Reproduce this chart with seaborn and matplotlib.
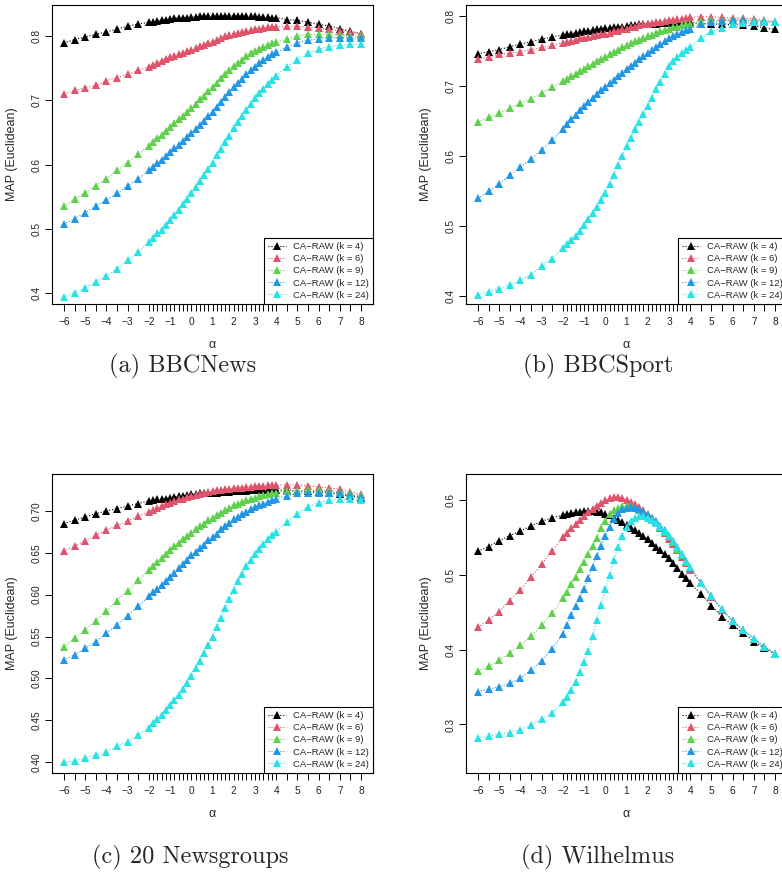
import matplotlib
matplotlib.use("Agg")
import matplotlib.pyplot as plt
import pandas as pd
import seaborn as sns

# alpha grid: coarse steps at both ends, 0.2 steps between -2 and 4
ALPHA = [-6, -5.5, -5, -4.5, -4, -3.5, -3, -2.5,
         -2, -1.8, -1.6, -1.4, -1.2, -1, -0.8, -0.6, -0.4, -0.2,
         0, 0.2, 0.4, 0.6, 0.8, 1, 1.2, 1.4, 1.6, 1.8,
         2, 2.2, 2.4, 2.6, 2.8, 3, 3.2, 3.4, 3.6, 3.8, 4,
         4.5, 5, 5.5, 6, 6.5, 7, 7.5, 8]

K_LABELS = ["CA\u2212RAW (k = 4)", "CA\u2212RAW (k = 6)", "CA\u2212RAW (k = 9)",
            "CA\u2212RAW (k = 12)", "CA\u2212RAW (k = 24)"]
COLORS = ["#000000", "#DF536B", "#61D04F", "#2297E6", "#28E2E5"]

# (a) BBCNews
BBCNEWS_K4 = [.789, .794, .798, .802, .806, .810, .815, .818,
              .821, .822, .823, .824, .825, .826, .827, .827, .828, .828,
              .829, .829, .830, .830, .830, .830, .831, .831, .831, .831,
              .831, .831, .830, .830, .830, .830, .829, .829, .829, .828, .828,
              .825, .824, .821, .818, .815, .811, .807, .803]
BBCNEWS_K6 = [.709, .715, .719, .723, .730, .735, .740, .746,
              .752, .755, .758, .761, .764, .767, .769, .771, .773, .776,
              .778, .781, .784, .786, .789, .791, .794, .796, .799, .801,
              .803, .804, .806, .807, .809, .810, .811, .812, .813, .814, .814,
              .8145, .815, .813, .812, .810, .808, .806, .802]
BBCNEWS_K9 = [.535, .546, .556, .567, .578, .591, .603, .616,
              .629, .635, .641, .646, .652, .658, .664, .670, .676, .682,
              .688, .694, .701, .707, .714, .720, .727, .734, .740, .747,
              .753, .758, .763, .768, .773, .777, .780, .783, .786, .788, .790,
              .795, .800, .802, .802, .802, .801, .800, .799]
BBCNEWS_K12 = [.507, .516, .525, .535, .545, .555, .567, .578,
               .591, .596, .602, .607, .613, .619, .625, .631, .637, .643,
               .649, .655, .662, .668, .675, .682, .690, .697, .705, .712,
               .720, .727, .733, .740, .746, .752, .757, .762, .767, .771, .775,
               .782, .789, .793, .795, .797, .797, .797, .796]
BBCNEWS_K24 = [.394, .401, .409, .418, .427, .438, .451, .464,
               .479, .486, .493, .499, .506, .514, .522, .530, .538, .547,
               .556, .565, .574, .584, .593, .603, .614, .624, .635, .645,
               .656, .666, .676, .685, .694, .703, .711, .718, .725, .732, .738,
               .752, .763, .773, .779, .783, .785, .787, .787]

# (b) BBCSport
BBCSPORT_K4 = [.746, .749, .752, .756, .760, .763, .767, .770,
               .773, .774, .775, .776, .777, .778, .779, .780, .781, .782,
               .783, .783, .784, .785, .785, .786, .787, .787, .788, .788,
               .789, .789, .789, .790, .790, .790, .790, .791, .791, .791, .791,
               .789, .789, .788, .788, .787, .786, .783, .781]
BBCSPORT_K6 = [.739, .741, .745, .747, .749, .752, .755, .758,
               .762, .763, .765, .766, .768, .769, .770, .771, .773, .774,
               .775, .776, .778, .779, .781, .782, .784, .785, .787, .788,
               .789, .790, .791, .792, .793, .794, .795, .796, .796, .797, .798,
               .799, .799, .798, .797, .797, .796, .794, .792]
BBCSPORT_K9 = [.648, .655, .661, .668, .675, .682, .690, .698,
               .707, .710, .714, .717, .721, .724, .728, .732, .735, .739,
               .742, .745, .749, .752, .755, .758, .761, .764, .766, .769,
               .771, .773, .776, .778, .780, .782, .784, .785, .787, .788, .789,
               .793, .794, .795, .795, .795, .794, .793, .791]
BBCSPORT_K12 = [.539, .549, .560, .572, .584, .595, .609, .622,
                .638, .645, .652, .658, .665, .671, .677, .683, .688, .694,
                .699, .704, .709, .714, .719, .724, .729, .733, .738, .743,
                .747, .752, .756, .760, .764, .768, .771, .774, .777, .780, .782,
                .788, .791, .793, .794, .794, .793, .792, .791]
BBCSPORT_K24 = [.401, .405, .410, .415, .422, .430, .442, .453,
                .468, .474, .480, .486, .493, .501, .509, .518, .527, .537,
                .547, .560, .573, .587, .600, .614, .626, .638, .649, .660,
                .671, .683, .695, .706, .717, .728, .735, .741, .747, .752, .756,
                .768, .778, .783, .788, .790, .791, .791, .791]

# (c) 20 Newsgroups
NEWSGROUPS_K4 = [.685, .689, .693, .697, .700, .703, .706, .709,
                 .712, .713, .714, .714, .715, .716, .717, .718, .718, .719,
                 .720, .720, .721, .721, .722, .722, .722, .723, .723, .723,
                 .724, .724, .724, .724, .725, .725, .725, .725, .725, .725, .725,
                 .725, .724, .7235, .723, .722, .720, .718, .7155]
NEWSGROUPS_K6 = [.652, .658, .6645, .671, .677, .683, .688, .694,
                 .699, .701, .704, .706, .708, .710, .712, .714, .715, .717,
                 .718, .719, .720, .722, .723, .724, .725, .725, .726, .726,
                 .727, .728, .728, .729, .729, .730, .730, .730, .731, .731, .731,
                 .7315, .731, .730, .729, .7275, .726, .723, .720]
NEWSGROUPS_K9 = [.537, .548, .558, .569, .581, .593, .605, .617,
                 .629, .634, .639, .644, .649, .653, .658, .662, .666, .670,
                 .674, .678, .682, .685, .689, .692, .695, .698, .701, .704,
                 .707, .709, .711, .713, .715, .716, .718, .719, .720, .721, .722,
                 .724, .724, .725, .725, .724, .723, .721, .719]
NEWSGROUPS_K12 = [.522, .528, .536, .544, .554, .564, .575, .586,
                  .598, .603, .607, .612, .616, .621, .626, .632, .637, .642,
                  .647, .651, .656, .660, .665, .669, .673, .678, .682, .686,
                  .690, .693, .696, .699, .702, .705, .707, .709, .711, .713, .715,
                  .718, .721, .722, .722, .722, .721, .719, .717]
NEWSGROUPS_K24 = [.3995, .401, .405, .408, .412, .419, .424, .432,
                  .441, .446, .451, .456, .462, .468, .474, .480, .487, .495,
                  .503, .512, .521, .530, .540, .550, .561, .572, .584, .595,
                  .606, .616, .625, .634, .642, .649, .655, .661, .666, .671, .675,
                  .687, .697, .705, .710, .713, .714, .714, .713]

# (d) Wilhelmus
WILHELMUS_K4 = [.532, .538, .546, .553, .559, .566, .572, .577,
                .580, .582, .583, .584, .585, .586, .586, .586, .585, .584,
                .582, .580, .577, .574, .571, .567, .563, .560, .556, .552,
                .548, .543, .538, .533, .528, .523, .516, .509, .502, .496, .489,
                .475, .459, .444, .433, .422, .411, .402, .394]
WILHELMUS_K6 = [.430, .440, .451, .466, .480, .497, .515, .532,
                .551, .557, .563, .568, .574, .579, .584, .589, .593, .597,
                .600, .603, .604, .604, .603, .601, .598, .595, .591, .587,
                .582, .576, .570, .563, .556, .549, .541, .533, .524, .516, .507,
                .489, .471, .453, .438, .426, .4145, .404, .395]
WILHELMUS_K9 = [.372, .378, .386, .396, .406, .418, .433, .449,
                .469, .478, .488, .498, .508, .518, .528, .539, .550, .563,
                .573, .582, .587, .590, .592, .593, .592, .590, .587, .584,
                .580, .575, .570, .564, .558, .552, .544, .535, .527, .518, .509,
                .490, .472, .454, .439, .426, .415, .404, .395]
WILHELMUS_K12 = [.344, .347, .3505, .355, .362, .373, .385, .401,
                 .421, .433, .446, .458, .469, .481, .496, .511, .525, .539,
                 .552, .565, .575, .583, .588, .590, .591, .590, .588, .585,
                 .581, .577, .572, .566, .560, .553, .546, .537, .528, .519, .510,
                 .490, .472, .454, .439, .426, .415, .404, .395]
WILHELMUS_K24 = [.282, .284, .287, .289, .293, .299, .307, .316,
                 .330, .337, .346, .357, .370, .384, .398, .418, .440, .460,
                 .481, .500, .520, .538, .553, .565, .573, .577, .579, .579,
                 .577, .574, .570, .565, .559, .553, .546, .537, .528, .519, .511,
                 .490, .472, .454, .439, .426, .415, .404, .395]

Y_TICKS_AB = [0.4, 0.5, 0.6, 0.7, 0.8]
Y_TICKS_C = [0.40, 0.45, 0.50, 0.55, 0.60, 0.65, 0.70]
Y_TICKS_D = [0.3, 0.4, 0.5, 0.6]
X_MAJOR = [-6, -5, -4, -3, -2, -1, 0, 1, 2, 3, 4, 5, 6, 7, 8]

sns.set_theme(style="white")
plt.rcParams["font.family"] = ["Liberation Sans", "DejaVu Sans"]
plt.rcParams["axes.unicode_minus"] = True

W, H = 782, 877
fig = plt.figure(figsize=(W / 100, H / 100), dpi=100)
AX_W, AX_H = 321 / W, 299 / H


def long_frame(series):
    parts = []
    for label, vals in zip(K_LABELS, series):
        parts.append(pd.DataFrame({"alpha": ALPHA, "map": vals, "run": label}))
    return pd.concat(parts, ignore_index=True)


def draw_panel(left_px, bottom_px, series, ylim, yticks, yfmt):
    ax = fig.add_axes([left_px / W, 1 - bottom_px / H, AX_W, AX_H])
    df = long_frame(series)
    sns.lineplot(data=df, x="alpha", y="map", hue="run", hue_order=K_LABELS,
                 palette=COLORS, estimator=None, sort=False, legend=False,
                 marker="^", markersize=5.4, markeredgewidth=0,
                 linestyle=":", linewidth=0.8, ax=ax)
    ax.set_xlim(-6.56, 8.56)
    ax.set_ylim(*ylim)
    ax.set_xticks(X_MAJOR)
    ax.set_xticks([a for a in ALPHA if a not in X_MAJOR], minor=True)
    ax.set_yticks(yticks)
    ax.set_yticklabels([yfmt.format(v) for v in yticks], rotation=90, va="center")
    ax.tick_params(axis="both", which="both", direction="out", length=5,
                   width=0.7, color="black", labelsize=7.3, labelcolor="#222222")
    ax.tick_params(axis="x", which="both", bottom=True, pad=4)
    ax.tick_params(axis="y", which="both", left=True, pad=2.5)
    for sp in ax.spines.values():
        sp.set_color("black")
        sp.set_linewidth(0.8)
    ax.set_xlabel("\u03b1", fontsize=9)
    ax.set_ylabel("MAP (Euclidean)", fontsize=9)
    ax.xaxis.set_label_coords(0.5, -41 / 299)
    ax.xaxis.label.set_va("center")
    ax.yaxis.set_label_coords(-40 / 321, 0.5)
    ax.yaxis.label.set_va("center")
    leg = ax.legend(handles=ax.lines[:5], labels=K_LABELS, loc="lower right",
                    borderaxespad=0, fontsize=6.8, frameon=True, fancybox=False,
                    framealpha=1, edgecolor="black", handlelength=1.9,
                    handletextpad=0.75, labelspacing=0.34, borderpad=0.45,
                    numpoints=1)
    leg.get_frame().set_linewidth(0.8)
    return ax


draw_panel(52, 304, [BBCNEWS_K4, BBCNEWS_K6, BBCNEWS_K9, BBCNEWS_K12, BBCNEWS_K24],
           (0.3834, 0.8477), Y_TICKS_AB, "{:.1f}")
draw_panel(466, 304, [BBCSPORT_K4, BBCSPORT_K6, BBCSPORT_K9, BBCSPORT_K12, BBCSPORT_K24],
           (0.388, 0.8158), Y_TICKS_AB, "{:.1f}")
draw_panel(52, 773, [NEWSGROUPS_K4, NEWSGROUPS_K6, NEWSGROUPS_K9, NEWSGROUPS_K12, NEWSGROUPS_K24],
           (0.3868, 0.7443), Y_TICKS_C, "{:.2f}")
draw_panel(466, 773, [WILHELMUS_K4, WILHELMUS_K6, WILHELMUS_K9, WILHELMUS_K12, WILHELMUS_K24],
           (0.235, 0.6354), Y_TICKS_D, "{:.1f}")

cap = dict(ha="center", va="center", family="cmr10", fontsize=17.5)
fig.text(183 / W, 1 - 366 / H, "(a) BBCNews", **cap)
fig.text(598 / W, 1 - 366 / H, "(b) BBCSport", **cap)
fig.text(190 / W, 1 - 857 / H, "(c) 20 Newsgroups", **cap)
fig.text(598 / W, 1 - 857 / H, "(d) Wilhelmus", **cap)

fig.savefig("out.png", dpi=100)
